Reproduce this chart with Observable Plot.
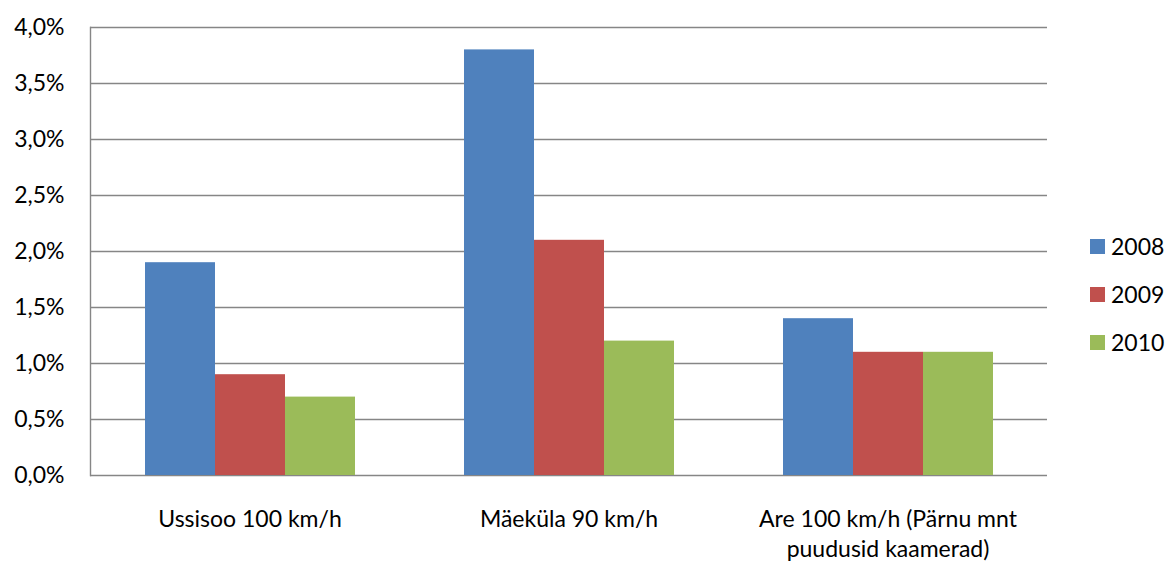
<!DOCTYPE html>
<html>
<head>
<meta charset="utf-8">
<script src="https://cdn.jsdelivr.net/npm/d3@7"></script>
<script src="https://cdn.jsdelivr.net/npm/@observablehq/plot@0.6"></script>
<style>
  body { margin: 0; background: #fff; }
  #wrap { position: relative; width: 1167px; height: 561px; font-family: Lato, "Open Sans", sans-serif; }
  #legend { position: absolute; left: 1090px; top: 222px; font-size: 23px; color: #000; }
  #legend .item { display: flex; align-items: center; height: 48px; }
  #legend .sw { width: 15px; height: 15px; margin-right: 6px; }
</style>
</head>
<body>
<div id="wrap"><div id="chart"></div><div id="legend"></div></div>
<script>
const categories = ["Ussisoo 100 km/h", "Mäeküla 90 km/h", "Are 100 km/h (Pärnu mnt puudusid kaamerad)"];
const categoryLabels = ["Ussisoo 100 km/h", "Mäeküla 90 km/h", "Are 100 km/h (Pärnu mnt\npuudusid kaamerad)"];
const years = ["2008", "2009", "2010"];
const values2008 = [0.019, 0.038, 0.014];
const values2009 = [0.009, 0.021, 0.011];
const values2010 = [0.007, 0.012, 0.011];
const colors = ["#4F81BD", "#C0504D", "#9BBB59"];
const yTicks = [0, 0.005, 0.01, 0.015, 0.02, 0.025, 0.03, 0.035, 0.04];

const series = [values2008, values2009, values2010];
const data = [];
categories.forEach((c, i) => years.forEach((y, j) => data.push({category: c, year: y, value: series[j][i]})));

const fmt = d => (d * 100).toFixed(1).replace(".", ",") + "%";
const grid = "#868686";

const chart = Plot.plot({
  width: 1167,
  height: 561,
  marginLeft: 89,
  marginRight: 119,
  marginTop: 27,
  marginBottom: 86,
  style: {fontFamily: "Lato, 'Open Sans', sans-serif", fontSize: "23px", color: "#000", background: "#fff"},
  fx: {domain: categories, padding: 0, label: null, axis: null},
  x: {domain: years, paddingInner: 0, paddingOuter: 0.75, axis: null},
  y: {domain: [0, 0.04], label: null, axis: null},
  color: {domain: years, range: colors},
  marks: [
    Plot.ruleY(yTicks, {stroke: grid, strokeWidth: 1.4, strokeOpacity: 1}),
    Plot.barY(data, {fx: "category", x: "year", y: "value", fill: "year"}),
    Plot.frame({anchor: "left", facetAnchor: "left", stroke: grid, strokeWidth: 1.4}),
    Plot.axisY({ticks: yTicks, tickFormat: fmt, tickSize: 0, tickPadding: 26, facetAnchor: "left", fontSize: 23, fill: "#000"}),
    Plot.axisFx({anchor: "bottom", tickSize: 0, tickPadding: 30, tickFormat: d => categoryLabels[categories.indexOf(d)], fontSize: 23, lineHeight: 1.3, fill: "#000", label: null})
  ]
});
document.getElementById("chart").append(chart);

const legend = document.getElementById("legend");
years.forEach((y, i) => {
  const it = document.createElement("div");
  it.className = "item";
  it.innerHTML = `<div class="sw" style="background:${colors[i]}"></div><span>${y}</span>`;
  legend.append(it);
});
</script>
</body>
</html>
